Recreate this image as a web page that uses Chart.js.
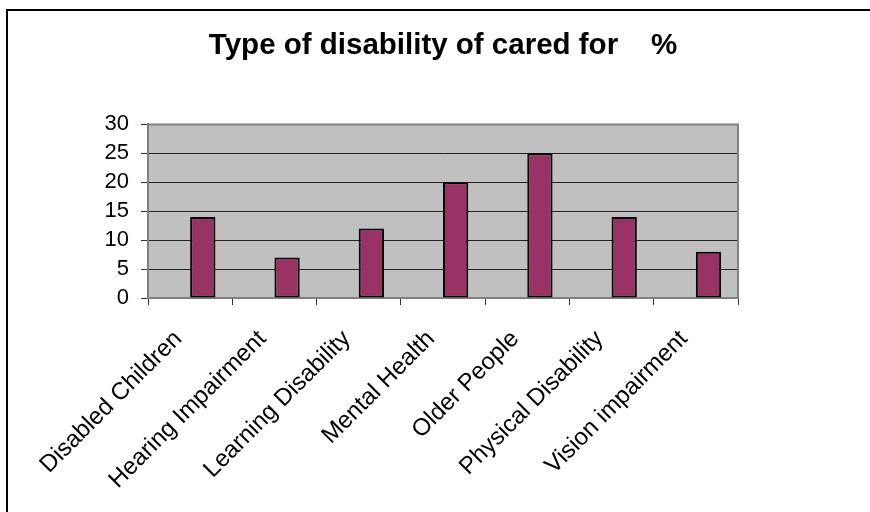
<!DOCTYPE html>
<html>
<head>
<meta charset="utf-8">
<script src="https://cdn.jsdelivr.net/npm/chart.js@4.4.1/dist/chart.umd.min.js"></script>
<style>
  html, body { margin: 0; padding: 0; background: #fff; }
  #wrap { width: 870px; height: 512px; position: relative; }
</style>
</head>
<body>
<div id="wrap"><canvas id="chart-disability"></canvas></div>
<script>
// Datos del gráfico
const categorias = ['Disabled Children', 'Hearing Impairment', 'Learning Disability', 'Mental Health', 'Older People', 'Physical Disability', 'Vision impairment'];
const porcentajes = [14, 7, 12, 20, 25, 14, 8];
// serie vacía (en el original ocupa el hueco a la izquierda de cada barra)
const serieVacia = [null, null, null, null, null, null, null];
const ticksY = [0, 5, 10, 15, 20, 25, 30];

// Fondo gris del área de trazado + marco exterior
const fondoPlot = {
  id: 'fondoPlot',
  beforeDraw(chart) {
    const { ctx, chartArea: a } = chart;
    ctx.save();
    ctx.fillStyle = '#C0C0C0';
    ctx.fillRect(a.left, a.top, a.right - a.left, a.bottom - a.top);
    // marco exterior (solo se ven borde izquierdo y superior)
    ctx.fillStyle = '#000';
    ctx.fillRect(6, 9, 864, 2);
    ctx.fillRect(6, 9, 2, 503);
    ctx.restore();
  },
  afterDatasetsDraw(chart) {
    const { ctx, chartArea: a } = chart;
    ctx.save();
    ctx.strokeStyle = '#808080';
    ctx.lineWidth = 2;
    ctx.beginPath();
    ctx.moveTo(a.left, a.top);
    ctx.lineTo(a.right, a.top);
    ctx.lineTo(a.right, a.bottom);
    ctx.stroke();
    ctx.restore();
  }
};

const familia = "'Liberation Sans', Arial, sans-serif";

new Chart(document.getElementById('chart-disability'), {
  type: 'bar',
  data: {
    labels: categorias,
    datasets: [
      { label: '', data: serieVacia, backgroundColor: '#fff' },
      {
        label: '%',
        data: porcentajes,
        backgroundColor: '#993366',
        borderColor: '#000',
        borderWidth: 2,
        borderSkipped: false
      }
    ]
  },
  options: {
    responsive: true,
    maintainAspectRatio: false,
    animation: false,
    categoryPercentage: 0.6,
    barPercentage: 1,
    layout: { padding: { left: 0, right: 132, top: 0, bottom: 0 } },
    plugins: {
      legend: { display: false },
      tooltip: { enabled: false },
      title: {
        display: true,
        text: 'Type of disability of cared for    %',
        fullSize: false,
        color: '#000',
        font: { family: familia, size: 29.5, weight: 'bold' },
        padding: { top: 28, bottom: 61 }
      }
    },
    scales: {
      x: {
        offset: true,
        afterFit: s => { s.height = 214; },
        border: { display: true, color: '#808080', width: 2 },
        grid: { offset: true, drawOnChartArea: false, drawTicks: true, tickLength: 7, color: '#333' },
        ticks: {
          color: '#000',
          font: { family: familia, size: 24 },
          autoSkip: false,
          minRotation: 45,
          maxRotation: 45,
          padding: 20,
          labelOffset: -12
        }
      },
      y: {
        min: 0,
        max: 30,
        afterFit: s => { s.width = 148; },
        afterBuildTicks: s => { s.ticks = ticksY.map(v => ({ value: v })); },
        border: { display: true, color: '#808080', width: 2 },
        grid: {
          color: c => (c.tick && c.tick.value === 30 ? 'rgba(0,0,0,0)' : '#222'),
          lineWidth: 1,
          tickLength: 7,
          tickColor: '#333'
        },
        ticks: { color: '#000', font: { family: familia, size: 22 }, padding: 12, autoSkip: false, stepSize: 5 }
      }
    }
  },
  plugins: [fondoPlot]
});
</script>
</body>
</html>
